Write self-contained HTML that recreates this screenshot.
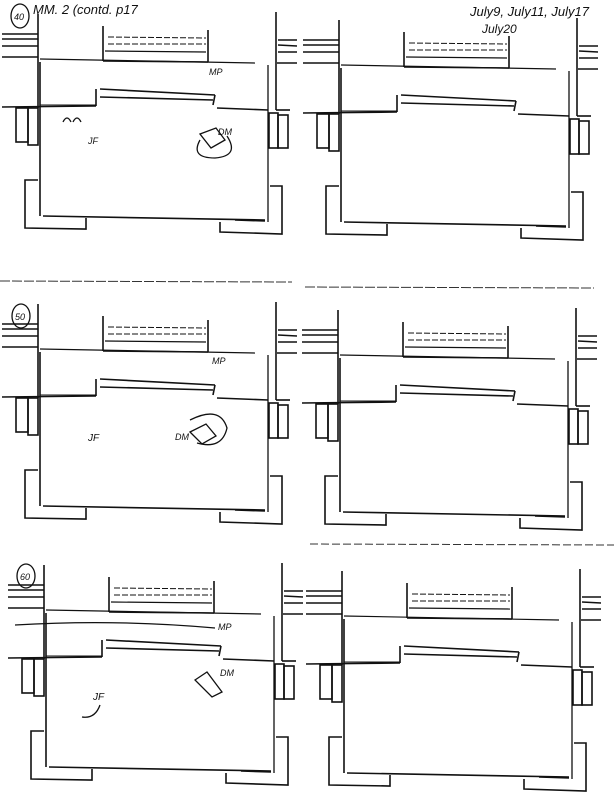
<!DOCTYPE html>
<html><head><meta charset="utf-8"><style>
html,body{margin:0;padding:0;background:#fff;}
svg{display:block;}
text{font-family:"Liberation Sans",sans-serif;font-style:italic;fill:#111;}
</style></head><body>
<svg width="614" height="800" viewBox="0 0 614 800" xmlns="http://www.w3.org/2000/svg">
<defs>
<g id="p" stroke="#111" stroke-width="1.6" fill="none">
  <line x1="38" y1="14" x2="38" y2="108"/>
  <line x1="40" y1="62" x2="40" y2="216"/>
  <line x1="2" y1="34" x2="38" y2="34"/>
  <line x1="2" y1="39" x2="38" y2="39"/>
  <line x1="2" y1="46" x2="38" y2="46"/>
  <line x1="2" y1="57" x2="38" y2="57"/>
  <line x1="103" y1="26" x2="103" y2="61"/>
  <line x1="208" y1="30" x2="208" y2="62"/>
  <line x1="103" y1="61" x2="208" y2="62"/>
  <line x1="108" y1="37" x2="206" y2="38" stroke-width="1" stroke-dasharray="6 2"/>
  <line x1="108" y1="44" x2="206" y2="44" stroke-width="1" stroke-dasharray="6 2"/>
  <line x1="105" y1="51" x2="206" y2="52" stroke-width="1.2"/>
  <line x1="40" y1="59" x2="255" y2="63" stroke-width="1.2"/>
  <line x1="276" y1="12" x2="276" y2="110"/>
  <line x1="268" y1="65" x2="268" y2="222" stroke-width="1.3"/>
  <line x1="278" y1="40" x2="297" y2="40"/>
  <line x1="278" y1="45" x2="297" y2="46"/>
  <line x1="278" y1="52" x2="297" y2="52"/>
  <line x1="277" y1="63" x2="297" y2="63"/>
  <line x1="2" y1="107" x2="96" y2="106"/>
  <line x1="40" y1="105" x2="96" y2="105" stroke-width="1"/>
  <line x1="96" y1="89" x2="96" y2="106"/>
  <line x1="100" y1="89" x2="215" y2="95"/>
  <line x1="100" y1="97" x2="213" y2="100"/>
  <line x1="215" y1="95" x2="213" y2="105"/>
  <line x1="217" y1="108" x2="268" y2="110"/>
  <line x1="276" y1="110" x2="290" y2="110"/>
  <rect x="16" y="108" width="12" height="34"/>
  <rect x="28" y="108" width="10" height="37"/>
  <rect x="269" y="113" width="9" height="35"/>
  <rect x="278" y="115" width="10" height="33"/>
  <line x1="43" y1="216" x2="265" y2="220"/>
  <polyline points="38,180 25,180 25,228 86,229 86,218"/>
  <polyline points="270,186 282,186 282,234 220,232 220,222"/>
  <line x1="235" y1="220" x2="265" y2="221"/>
</g>
</defs>
<use href="#p" transform="translate(0,0)"/>
<use href="#p" transform="translate(301,6)"/>
<use href="#p" transform="translate(0,290)"/>
<use href="#p" transform="translate(300,296)"/>
<use href="#p" transform="translate(6,551)"/>
<use href="#p" transform="translate(304,557)"/>
<line x1="0" y1="281" x2="292" y2="282" stroke="#333" stroke-width="1" stroke-dasharray="10 2"/>
<line x1="305" y1="287" x2="594" y2="288" stroke="#333" stroke-width="1" stroke-dasharray="10 2"/>
<line x1="310" y1="544" x2="614" y2="545" stroke="#333" stroke-width="1" stroke-dasharray="8 3"/>
<g stroke="#111" stroke-width="1.3" fill="none">
  <ellipse cx="20" cy="16" rx="9" ry="12"/>
  <ellipse cx="21" cy="316" rx="9" ry="12"/>
  <ellipse cx="26" cy="576" rx="9" ry="12"/>
  <path d="M63,122 q4,-8 8,0 M73,122 q4,-8 8,0"/>
  <path d="M200,134 l16,-6 l9,12 l-14,8 z"/>
  <path d="M200,140 q-10,18 15,18 q25,-2 12,-22"/>
  <path d="M190,432 l16,-8 l10,12 l-14,8 z"/>
  <path d="M190,420 q30,-15 37,8 q-5,22 -30,15"/>
  <path d="M15,625 q100,-6 200,3"/>
  <path d="M195,680 l12,-8 l15,20 l-10,5 z"/>
  <path d="M100,705 q-5,14 -18,12"/>
</g>
<text x="33" y="14" font-size="13">MM. 2 (contd. p17</text>
<text x="470" y="16" font-size="13">July9, July11, July17</text>
<text x="482" y="33" font-size="12">July20</text>
<text x="14" y="20" font-size="9">40</text>
<text x="15" y="320" font-size="9">50</text>
<text x="20" y="580" font-size="9">60</text>
<text x="209" y="75" font-size="9">MP</text>
<text x="88" y="144" font-size="9">JF</text>
<text x="218" y="135" font-size="9">DM</text>
<text x="212" y="364" font-size="9">MP</text>
<text x="88" y="441" font-size="10">JF</text>
<text x="175" y="440" font-size="9">DM</text>
<text x="218" y="630" font-size="9">MP</text>
<text x="93" y="700" font-size="10">JF</text>
<text x="220" y="676" font-size="9">DM</text>
</svg>
</body></html>
